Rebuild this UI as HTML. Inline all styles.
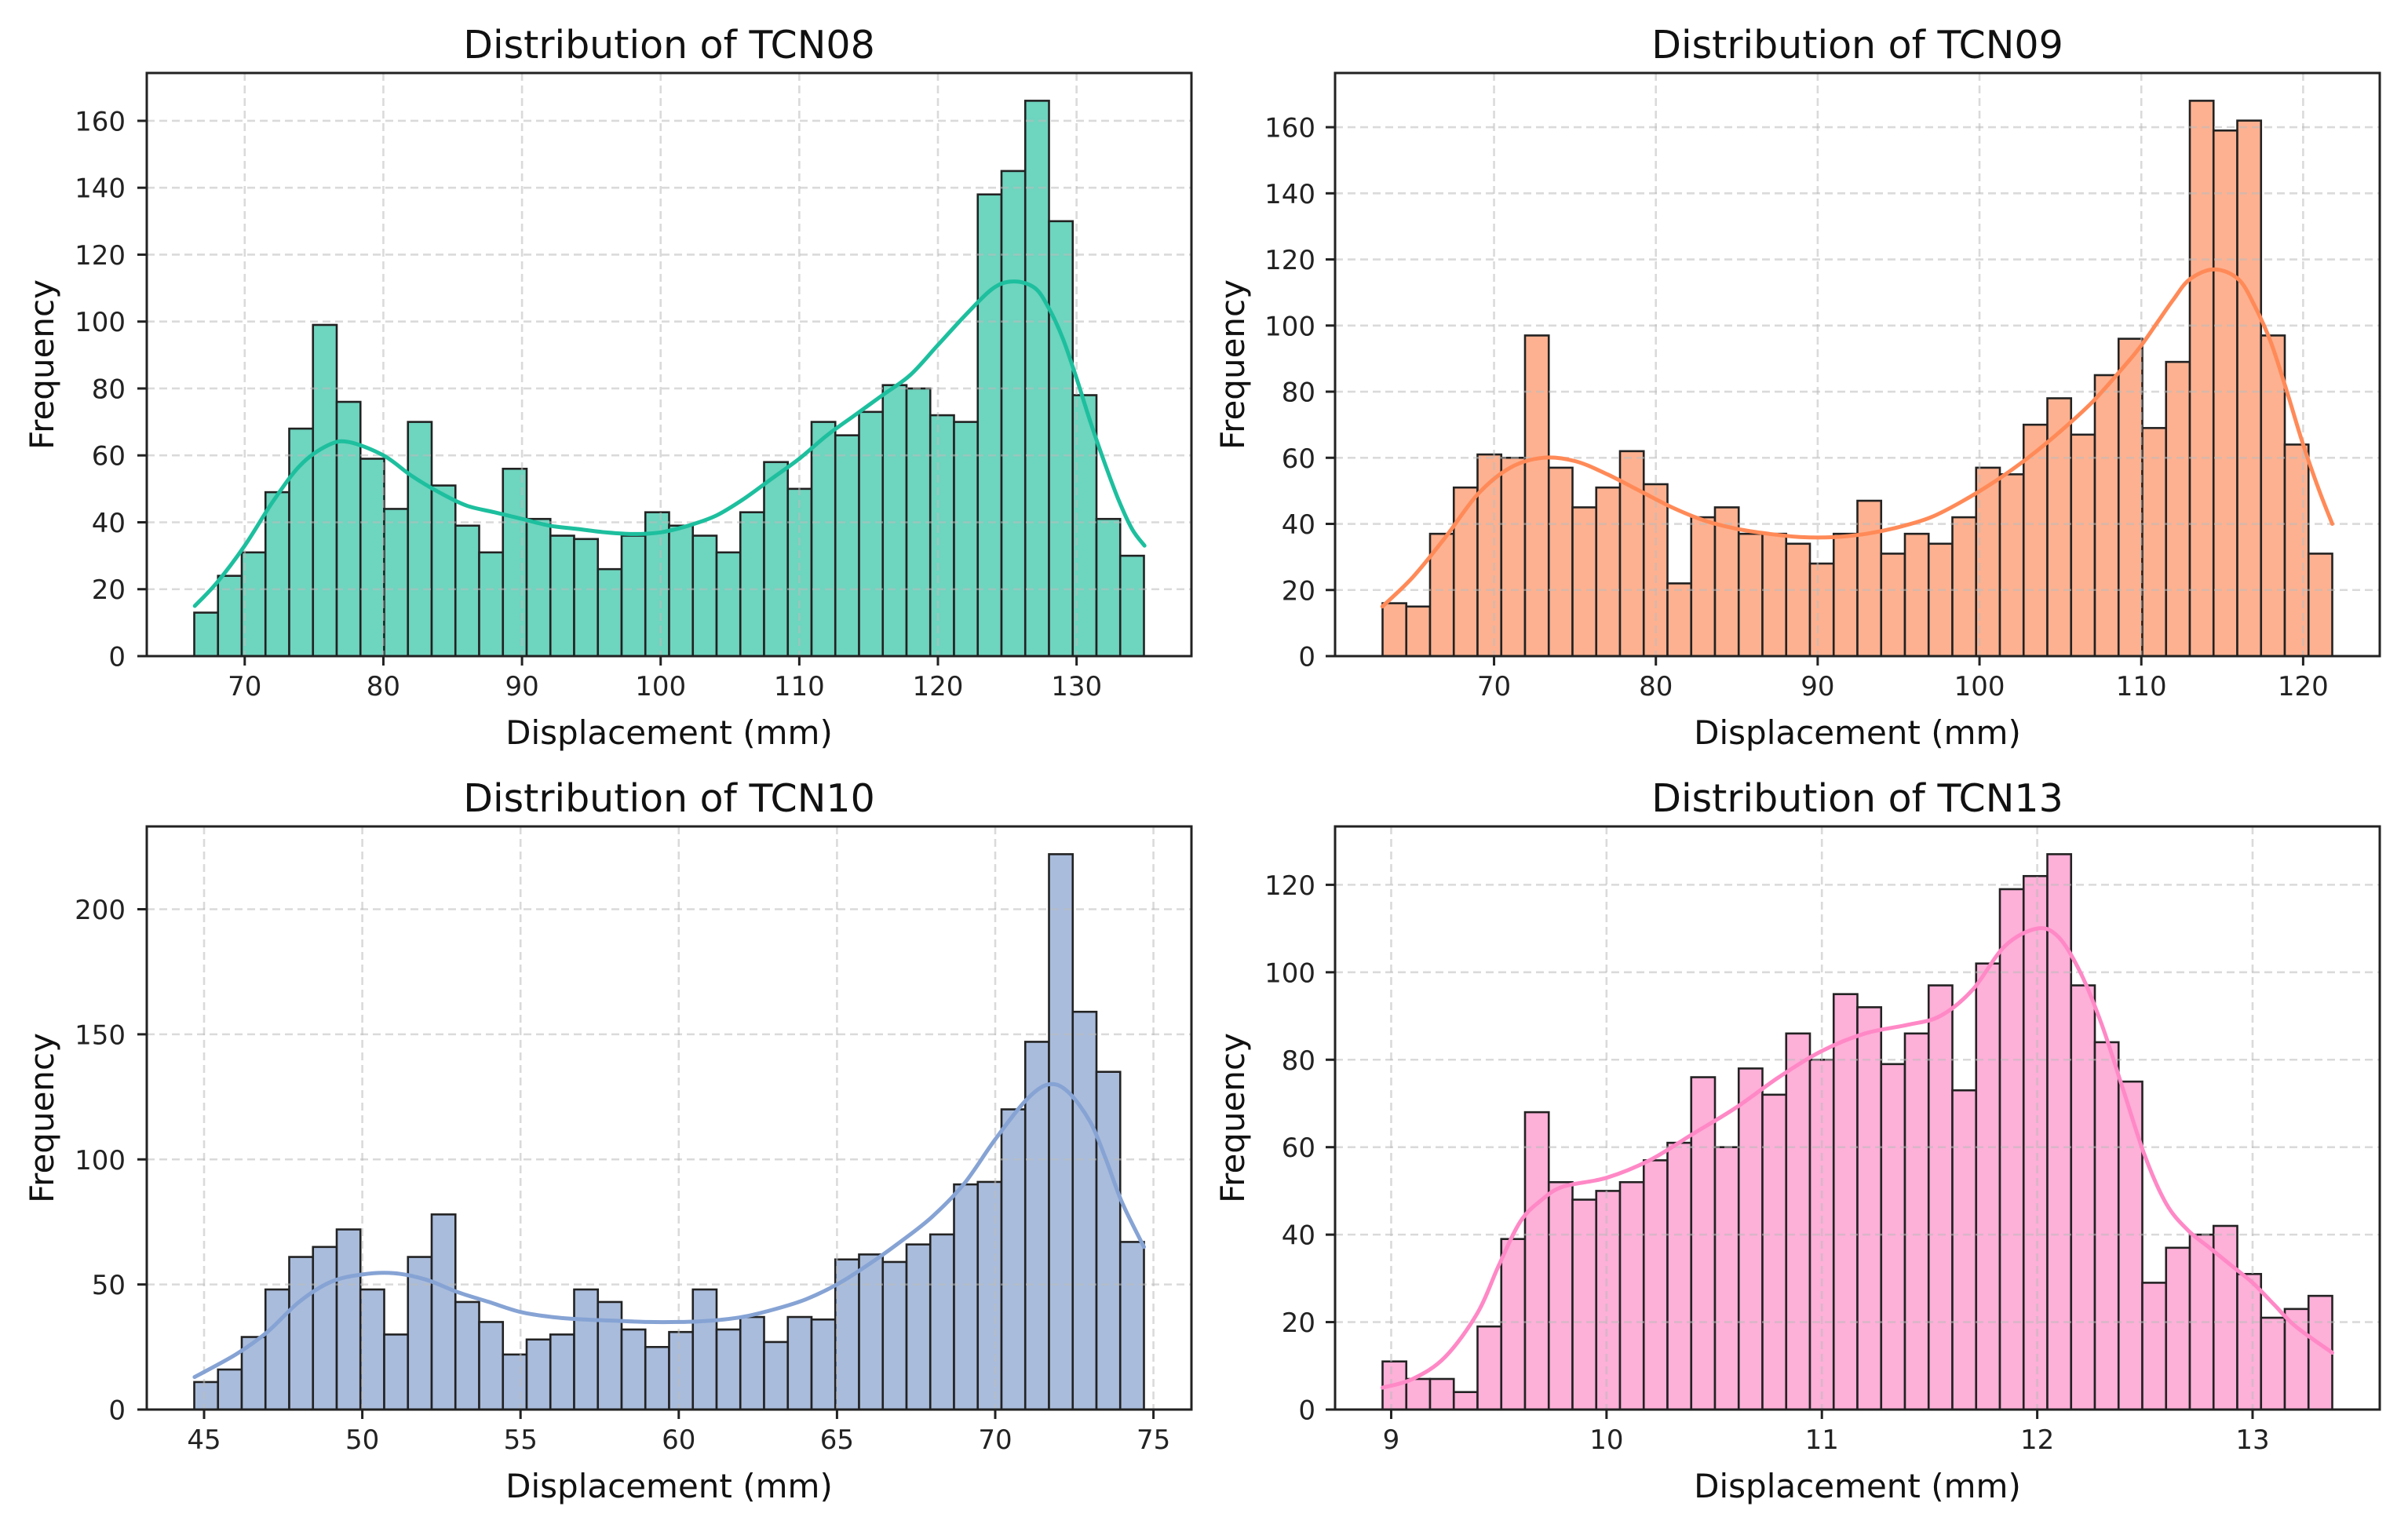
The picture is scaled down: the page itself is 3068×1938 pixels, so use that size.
<!DOCTYPE html>
<html><head><meta charset="utf-8"><style>
html,body{margin:0;padding:0;background:#fff;}
svg{display:block;font-family:"DejaVu Sans","Liberation Sans",sans-serif;}
</style></head><body>
<svg id="fig" width="3068" height="1938" viewBox="0 0 3068 1938" xmlns="http://www.w3.org/2000/svg"></svg>
<script>
// ---- TCN08 ----
const tcn08Counts=[13,24,31,49,68,99,76,59,44,70,51,39,31,56,41,36,35,26,36,43,39,36,31,43,58,50,70,66,73,81,80,72,70,138,145,166,130,78,41,30];
const tcn08KdeX=[66.4,68,70,72,74,76,77.5,80,82,84,86,88,90,92,94,96,98,100,102,104,106,108,110,112,114,116,118,120,122,124,125.5,127,128,129,130,131,132,133,134,134.9];
const tcn08KdeY=[15,22,33,46,57,63,64,60,54,49,45,43,41,39,38,37,36.5,37,39,42,47,53,59,66,72,78,84,93,102,110,112,110,104,95,83,70,58,47,38,33];
const tcn08XTicks=[70,80,90,100,110,120,130];
const tcn08YTicks=[0,20,40,60,80,100,120,140,160];
// ---- TCN09 ----
const tcn09Counts=[16,15,37,51,61,60,97,57,45,51,62,52,22,42,45,37,37,34,28,37,47,31,37,34,42,57,55,70,78,67,85,96,69,89,168,159,162,97,64,31];
const tcn09KdeX=[63.1,65,67,69,71,73,75,77,79,81,83,85,87,89,91,93,95,97,99,101,103,105,107,109,110,111,112,113,114.5,116,117,118,119,120,121,121.8];
const tcn09KdeY=[15,24,36,49,57,60,59,55,50,45,41,38.5,37,36,36,37,39,42,47,53,60,68,77,88,94,101,108,114,117,114,106,95,80,64,50,40];
const tcn09XTicks=[70,80,90,100,110,120];
const tcn09YTicks=[0,20,40,60,80,100,120,140,160];
// ---- TCN10 ----
const tcn10Counts=[11,16,29,48,61,65,72,48,30,61,78,43,35,22,28,30,48,43,32,25,31,48,32,37,27,37,36,60,62,59,66,70,90,91,120,147,222,159,135,67];
const tcn10KdeX=[44.7,46,47,48,49,50,51,52,53,54,55,56,57,58,59,60,61,62,63,64,65,66,67,68,69,70,71,71.7,72.3,73,73.5,74,74.7];
const tcn10KdeY=[13,22,31,43,51,54,54.5,52,47,43,39,37,36,35.5,35,35,35.5,37,40,44,50,58,67,77,90,108,124,130,127,115,100,83,65];
const tcn10XTicks=[45,50,55,60,65,70,75];
const tcn10YTicks=[0,50,100,150,200];
// ---- TCN13 ----
const tcn13Counts=[11,7,7,4,19,39,68,52,48,50,52,57,61,76,60,78,72,86,80,95,92,79,86,97,73,102,119,122,127,97,84,75,29,37,40,42,31,21,23,26];
const tcn13KdeX=[8.96,9.1,9.25,9.4,9.5,9.6,9.7,9.8,10,10.2,10.4,10.6,10.8,11,11.2,11.4,11.55,11.7,11.85,12,12.1,12.2,12.3,12.4,12.5,12.6,12.7,12.8,12.9,13.0,13.1,13.2,13.37];
const tcn13KdeY=[5,7,12,22,33,43,48,51,53,57,63,69,76,82,86,88,90,96,106,110,108,100,88,73,58,47,41,37,33,29,24,19,13];
const tcn13XTicks=[9,10,11,12,13];
const tcn13YTicks=[0,20,40,60,80,100,120];

const NS="http://www.w3.org/2000/svg";
const fig=document.getElementById('fig');
function mk(tag,attrs,parent){const e=document.createElementNS(NS,tag);for(const k in attrs)e.setAttribute(k,attrs[k]);(parent||fig).appendChild(e);return e;}
function smooth(pts){
  let d='M'+pts[0][0].toFixed(1)+','+pts[0][1].toFixed(1);
  for(let i=0;i<pts.length-1;i++){
    const p0=pts[Math.max(0,i-1)],p1=pts[i],p2=pts[i+1],p3=pts[Math.min(pts.length-1,i+2)];
    const c1=[p1[0]+(p2[0]-p0[0])/6,p1[1]+(p2[1]-p0[1])/6];
    const c2=[p2[0]-(p3[0]-p1[0])/6,p2[1]-(p3[1]-p1[1])/6];
    d+=' C'+c1[0].toFixed(1)+','+c1[1].toFixed(1)+' '+c2[0].toFixed(1)+','+c2[1].toFixed(1)+' '+p2[0].toFixed(1)+','+p2[1].toFixed(1);
  }
  return d;
}

const panels=[
 {id:'tcn08',title:'Distribution of TCN08',counts:tcn08Counts,x0:66.36,x1:134.86,kx:tcn08KdeX,ky:tcn08KdeY,xt:tcn08XTicks,yt:tcn08YTicks,fill:'#6ed5bf',line:'#1dbf9e',L:187,T:93,ylx:68,tickR:160},
 {id:'tcn09',title:'Distribution of TCN09',counts:tcn09Counts,x0:63.11,x1:121.8,kx:tcn09KdeX,ky:tcn09KdeY,xt:tcn09XTicks,yt:tcn09YTicks,fill:'#fdb190',line:'#ff8a58',L:1701,T:93,ylx:1585,tickR:1676},
 {id:'tcn10',title:'Distribution of TCN10',counts:tcn10Counts,x0:44.69,x1:74.70,kx:tcn10KdeX,ky:tcn10KdeY,xt:tcn10XTicks,yt:tcn10YTicks,fill:'#a9bcdc',line:'#86a3d4',L:187,T:1053,ylx:68,tickR:160},
 {id:'tcn13',title:'Distribution of TCN13',counts:tcn13Counts,x0:8.96,x1:13.37,kx:tcn13KdeX,ky:tcn13KdeY,xt:tcn13XTicks,yt:tcn13YTicks,fill:'#fdb0d8',line:'#ff88c6',L:1701,T:1053,ylx:1585,tickR:1676}
];
const W=1331,H=743;

panels.forEach(p=>{
  const g=mk('g',{});
  
  
  const span=p.x1-p.x0, xmin=p.x0-0.05*span, xmax=p.x1+0.05*span;
  const ymax=Math.max(...p.counts)*1.05;
  const sx=v=>p.L+(v-xmin)/(xmax-xmin)*W;
  const sy=v=>p.T+H-v/ymax*H;
  const bw=span/p.counts.length;
  p.counts.forEach((c,i)=>{
    const a=sx(p.x0+i*bw), b=sx(p.x0+(i+1)*bw);
    const r=mk('rect',{x:a,y:sy(c),width:b-a,height:sy(0)-sy(c),fill:p.fill,stroke:'#222','stroke-width':2.6},g);
    
    
  });
  p.xt.forEach(t=>{const l=mk('line',{x1:sx(t),x2:sx(t),y1:p.T,y2:p.T+H,stroke:'#bbb','stroke-opacity':0.55,'stroke-width':2.6,'stroke-dasharray':'10,6'},g);
    });
  p.yt.forEach(t=>{const l=mk('line',{x1:p.L,x2:p.L+W,y1:sy(t),y2:sy(t),stroke:'#bbb','stroke-opacity':0.55,'stroke-width':2.6,'stroke-dasharray':'10,6'},g);
    });
  const pts=p.kx.map((x,i)=>[sx(x),sy(p.ky[i])]);
  const k=mk('path',{d:smooth(pts),fill:'none',stroke:p.line,'stroke-width':5,'stroke-linejoin':'round','stroke-linecap':'round'},g);
  
  
  const fr=mk('rect',{x:p.L,y:p.T,width:W,height:H,fill:'none',stroke:'#222','stroke-width':3},g);
  
  
  p.xt.forEach(t=>{
    mk('line',{x1:sx(t),x2:sx(t),y1:p.T+H,y2:p.T+H+12,stroke:'#222','stroke-width':3},g);
    const tx=mk('text',{x:sx(t),y:p.T+H+50,'text-anchor':'middle','font-size':34,fill:'#222'},g);
    
    tx.textContent=t;
  });
  p.yt.forEach(t=>{
    mk('line',{x1:p.L-12,x2:p.L,y1:sy(t),y2:sy(t),stroke:'#222','stroke-width':3},g);
    const tx=mk('text',{x:p.tickR,y:sy(t)+12.5,'text-anchor':'end','font-size':34,fill:'#222'},g);
    
    tx.textContent=t;
  });
  const ti=mk('text',{x:p.L+W/2,y:p.T-19,'text-anchor':'middle','font-size':49,fill:'#111'},g);
  
  ti.textContent=p.title;
  const xl=mk('text',{x:p.L+W/2,y:p.T+H+112,'text-anchor':'middle','font-size':42,fill:'#111'},g);
  
  xl.textContent='Displacement (mm)';
  const yc=p.T+H/2;
  const yl=mk('text',{x:p.ylx,y:yc,'text-anchor':'middle','font-size':42,fill:'#111',transform:'rotate(-90 '+p.ylx+' '+yc+')'},g);
  
  yl.textContent='Frequency';
});
</script>
</body></html>
